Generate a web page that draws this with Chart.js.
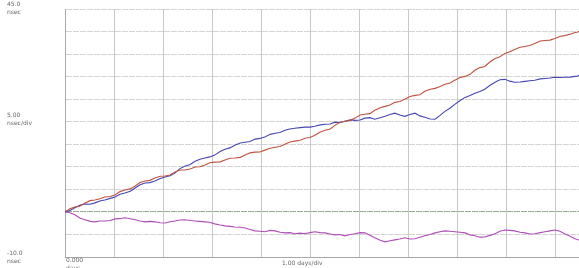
<!DOCTYPE html>
<html>
<head>
<meta charset="utf-8">
<script src="https://cdn.jsdelivr.net/npm/chart.js@4"></script>
<style>
  html, body { margin: 0; padding: 0; background: #fff; overflow: hidden; }
  #wrap { position: relative; width: 579px; height: 268px; overflow: hidden; }
  #box { position: absolute; left: 0; top: 0; width: 620px; height: 268px; }
  .lbl { position: absolute; font-family: "DejaVu Sans", sans-serif; font-size: 6px; line-height: 8px; color: #666; white-space: nowrap; }
</style>
</head>
<body>
<div id="wrap">
  <div id="box"><canvas id="timeChart" width="620" height="268"></canvas></div>
  <div class="lbl" style="left:7px; top:0px;">45.0<br>nsec</div>
  <div class="lbl" style="left:7px; top:111px;">5.00<br>nsec/div</div>
  <div class="lbl" style="left:7px; top:249px;">-10.0<br>nsec</div>
  <div class="lbl" style="left:66px; top:256px;">0.000<br>days</div>
  <div class="lbl" style="left:282px; top:259px;">1.00 days/div</div>
</div>
<script>
// time in days
var days = [
    0, 0.1, 0.2, 0.31, 0.41, 0.51, 0.61, 0.71, 0.81, 0.92,
    1.02, 1.12, 1.22, 1.33, 1.43, 1.53, 1.63, 1.73, 1.83, 1.94,
    2.04, 2.14, 2.24, 2.34, 2.44, 2.55, 2.65, 2.75, 2.85, 2.95,
    3.05, 3.16, 3.26, 3.36, 3.46, 3.57, 3.67, 3.77, 3.87, 3.97,
    4.07, 4.18, 4.28, 4.38, 4.48, 4.58, 4.68, 4.79, 4.89, 4.99,
    5.09, 5.2, 5.3, 5.4, 5.5, 5.6, 5.7, 5.81, 5.91, 6.01,
    6.11, 6.21, 6.31, 6.42, 6.52, 6.62, 6.72, 6.82, 6.92, 7.03,
    7.13, 7.23, 7.33, 7.44, 7.54, 7.64, 7.74, 7.84, 7.94, 8.05,
    8.15, 8.25, 8.35, 8.45, 8.55, 8.66, 8.76, 8.86, 8.96, 9.06,
    9.16, 9.27, 9.37, 9.47, 9.57, 9.68, 9.78, 9.88, 9.98, 10.08,
    10.18, 10.29, 10.39, 10.43, 10.47];

// phase (nsec)
var redTrace = [
    0, 0.7, 1.1, 1.3, 2.0, 2.5, 2.65, 2.9, 3.3, 3.4,
    3.75, 4.5, 4.85, 5.1, 5.75, 6.5, 6.85, 7.0, 7.5, 7.9,
    7.95, 8.2, 8.85, 9.3, 9.3, 9.5, 9.95, 10.0, 10.4, 10.9,
    11.05, 11.1, 11.5, 11.9, 11.95, 12.1, 12.6, 13.1, 13.25, 13.3,
    13.7, 14.1, 14.35, 14.5, 15.0, 15.5, 15.7, 15.9, 16.35, 16.5,
    17.0, 17.7, 18.1, 18.4, 19.2, 19.9, 20.1, 20.3, 20.8, 21.5,
    21.65, 21.8, 22.55, 23.1, 23.4, 23.7, 24.3, 24.5, 25.0, 25.6,
    25.85, 26.0, 26.75, 27.2, 27.4, 27.8, 28.3, 28.6, 29.2, 29.8,
    30.05, 30.5, 31.4, 32.0, 32.25, 33.3, 34.0, 34.4, 35.15, 35.5,
    36.0, 36.5, 36.7, 36.9, 37.35, 37.9, 38.0, 38.1, 38.45, 38.9,
    39.1, 39.4, 39.8, 39.85, 40.0];

var blueTrace = [
    0, 0.3, 0.9, 1.5, 1.75, 1.7, 2.0, 2.4, 2.65, 3.0,
    3.3, 3.9, 4.2, 4.6, 5.3, 6.0, 6.4, 6.5, 6.85, 7.4,
    7.75, 8.0, 8.6, 9.6, 10.15, 10.5, 11.25, 11.7, 11.95, 12.2,
    12.6, 13.4, 13.9, 14.2, 14.8, 15.3, 15.45, 15.6, 16.15, 16.3,
    16.6, 17.2, 17.45, 17.6, 18.1, 18.4, 18.55, 18.7, 18.8, 18.8,
    19.0, 19.3, 19.45, 19.5, 19.9, 19.8, 20.1, 20.4, 20.3, 20.4,
    20.8, 20.9, 20.55, 20.9, 21.2, 21.6, 21.9, 21.5, 21.2, 21.6,
    21.9, 21.3, 21.0, 20.6, 20.55, 21.4, 22.3, 23.0, 23.85, 24.7,
    25.4, 25.8, 26.3, 26.7, 27.2, 28.1, 28.75, 29.3, 29.4, 29.0,
    28.75, 28.8, 28.95, 29.1, 29.2, 29.5, 29.6, 29.7, 29.85, 29.8,
    29.85, 29.9, 30.05, 30.1, 30.3];

var magentaTrace = [
    0, -0.2, -0.65, -1.4, -1.75, -2.1, -2.2, -2.0, -2.0, -1.9,
    -1.55, -1.5, -1.3, -1.5, -1.75, -2.0, -2.2, -2.1, -2.2, -2.4,
    -2.45, -2.2, -2.0, -1.8, -1.75, -1.9, -2.0, -2.1, -2.2, -2.3,
    -2.65, -2.9, -3.1, -3.2, -3.35, -3.4, -3.55, -3.9, -4.2, -4.3,
    -4.4, -4.1, -4.2, -4.5, -4.65, -4.6, -4.85, -4.7, -4.85, -4.6,
    -4.4, -4.6, -4.65, -4.9, -5.1, -5.0, -5.3, -5.0, -4.85, -4.6,
    -4.65, -5.2, -5.75, -6.3, -6.65, -6.4, -6.2, -6.0, -5.75, -6.0,
    -5.95, -5.6, -5.3, -5.0, -4.65, -4.4, -4.2, -4.3, -4.4, -4.5,
    -4.65, -5.1, -5.3, -5.6, -5.55, -5.2, -4.85, -4.3, -4.0, -4.1,
    -4.2, -4.5, -4.65, -4.9, -4.85, -4.6, -4.4, -4.2, -4.0, -4.3,
    -4.85, -5.4, -5.95, -6.1, -6.2];

function toPoints(ys) {
    return ys.map(function(v, i) { return { x: days[i], y: v }; });
}

function trace(data, color) {
    return {
        data: toPoints(data),
        borderColor: color,
        borderWidth: 1.1,
        pointRadius: 0,
        tension: 0,
        fill: false
    };
}

var ctx = document.getElementById('timeChart').getContext('2d');

new Chart(ctx, {
    type: 'line',
    data: {
        datasets: [
            trace(redTrace, '#c0523e'),
            trace(blueTrace, '#4646b4'),
            trace(magentaTrace, '#b04cb8')
        ]
    },
    options: {
        responsive: false,
        animation: false,
        layout: { padding: { left: 65, top: 9, right: 15, bottom: 11 } },
        plugins: { legend: { display: false }, tooltip: { enabled: false } },
        scales: {
            x: {
                type: 'linear',
                min: 0,
                max: 11,
                ticks: { display: false, stepSize: 1 },
                grid: { color: '#c8c8c8', lineWidth: 1, drawTicks: false },
                border: { color: '#a8a8a8' }
            },
            y: {
                min: -10,
                max: 45,
                ticks: { display: false, stepSize: 5 },
                grid: {
                    drawTicks: false,
                    lineWidth: 1,
                    color: function(c) { return c.tick && c.tick.value === 0 ? '#98ac98' : '#d4d4d4'; }
                },
                border: { color: '#a8a8a8', dash: [6, 1] }
            }
        }
    }
});
</script>
</body>
</html>
